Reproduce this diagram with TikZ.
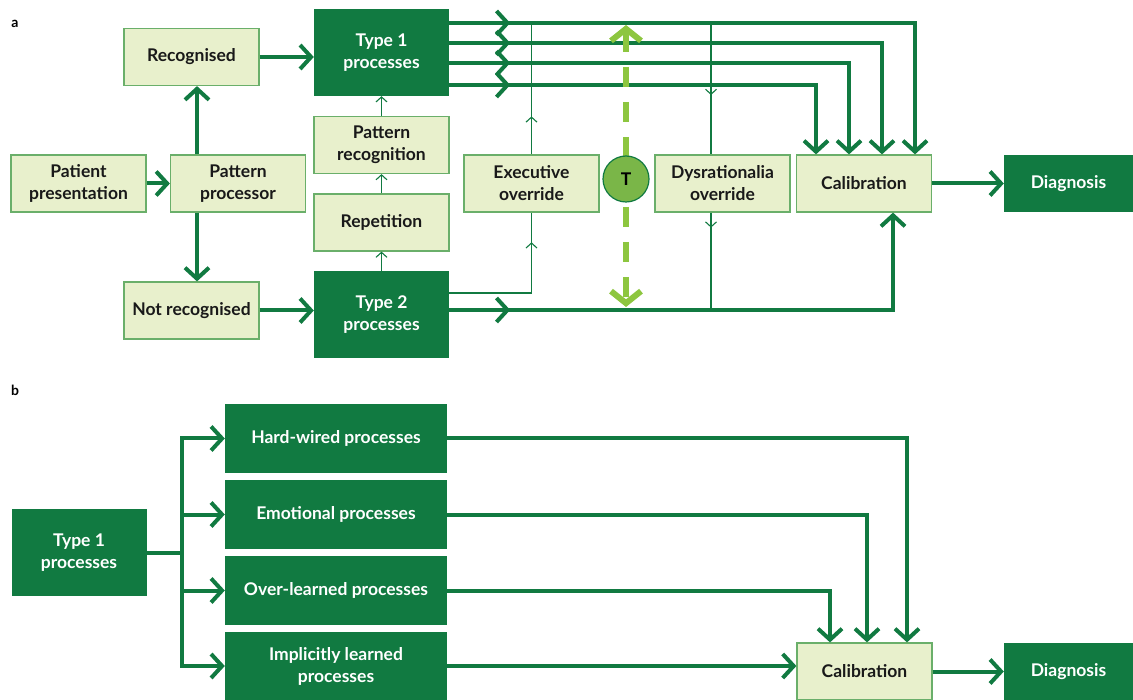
\documentclass[tikz,border=0pt]{standalone}
\usepackage{fontspec}
\setmainfont{Lato}
\usetikzlibrary{arrows.meta,decorations.markings}
\definecolor{dkgreen}{HTML}{117A41}
\definecolor{ltfill}{HTML}{E8F0CC}
\definecolor{ltline}{HTML}{6AAF6A}
\definecolor{dashgreen}{HTML}{8DC63F}
\definecolor{tfill}{HTML}{7AB648}
\def\boxfont{\bfseries\fontsize{17.5}{22}\selectfont}
\tikzset{
	lightbox/.style={draw=ltline, line width=1.2pt, fill=ltfill, text=black!90, minimum width=135pt, minimum height=57pt, align=center, inner sep=0pt, font=\boxfont},
	darkbox/.style={fill=dkgreen, text=white, minimum width=135pt, minimum height=87pt, align=center, inner sep=0pt, font=\boxfont},
	widebox/.style={darkbox, minimum width=222pt, minimum height=69pt},
	thkline/.style={draw=dkgreen, line width=4pt},
	thk/.style={thkline, -{Straight Barb[length=11pt,width=24pt]}},
	thin/.style={draw=dkgreen, line width=1.1pt, -{Straight Barb[length=5pt,width=11pt]}},
	midarr/.style={postaction={decorate, decoration={markings, mark=at position #1 with {\arrow{Straight Barb[length=11pt,width=24pt]}}}}},
	thinmid/.style={draw=dkgreen, line width=1.1pt, postaction={decorate, decoration={markings, mark=at position #1 with {\arrow{Straight Barb[length=5pt,width=11pt]}}}}},
	dashgrn/.style={draw=dashgreen, line width=6pt, dash pattern=on 20pt off 15pt, {Straight Barb[length=12pt,width=30pt]}-{Straight Barb[length=12pt,width=30pt]}},
	tcirc/.style={circle, draw=dkgreen, line width=1.2pt, fill=tfill, minimum size=46pt, inner sep=0pt, font=\boxfont},
	panel/.style={font=\bfseries\fontsize{14}{14}\selectfont, inner sep=0pt}
}

\begin{document}
\begin{tikzpicture}[x=1pt, y=-1pt]
			%%%%% START %%%%%
			\useasboundingbox (0,0) rectangle (1133,700);
			
			%%%%% panel a %%%%%
			\node[panel] (la) at (15,24) {a};
			
			\node[lightbox] (pp) at (78.5,183.5) {Patient\\presentation};
			\node[lightbox] (proc) at (238,183.5) {Pattern\\processor};
			\node[lightbox] (rec) at (191.5,57) {Recognised};
			\node[lightbox] (notrec) at (191.5,310.5) {Not recognised};
			\node[darkbox] (tone) at (381.5,52.5) {Type 1\\processes};
			\node[lightbox] (prec) at (381.5,145) {Pattern\\recognition};
			\node[lightbox] (rep) at (381.5,222.5) {Repetition};
			\node[darkbox] (ttwo) at (381.5,314.5) {Type 2\\processes};
			\node[lightbox] (exe) at (531.5,183.5) {Executive\\override};
			\node[lightbox] (dys) at (722.5,183.5) {Dysrationalia\\override};
			\node[lightbox] (cal) at (864,183.5) {Calibration};
			\node[darkbox, minimum width=129pt, minimum height=57pt] (diag) at (1068.5,183.5) {Diagnosis};
			
			% thin links
			\coordinate (dtop) at (711,23);
			\coordinate (dbot) at (711,310);
			\draw[thin] (ttwo) -- (rep);
			\draw[thin] (rep) -- (prec);
			\draw[thin] (prec) -- (tone);
			\draw[thinmid=133pt] (ttwo.east |- 0,293) -| (exe.south);
			\draw[thinmid=38pt] (exe.north) -- (exe.north |- dtop);
			\draw[thinmid=72pt] (dtop) -- (dys.north -| dtop);
			\draw[thinmid=15pt] (dys.south -| dtop) -- (dbot);
			
			% thick links
			\draw[thk] (pp) -- (proc);
			\draw[thk] (proc.north -| 197,0) -- (rec.south -| 197,0);
			\draw[thk] (proc.south -| 197,0) -- (notrec.north -| 197,0);
			\draw[thk] (rec.east) -- (rec.east -| tone.west);
			\draw[thk] (notrec.east) -- (notrec.east -| ttwo.west);
			\draw[thk, midarr=61pt] (tone.east |- 0,23) -| (cal.north -| 915,0);
			\draw[thk, midarr=61pt] (tone.east |- 0,43) -| (cal.north -| 882,0);
			\draw[thk, midarr=61pt] (tone.east |- 0,63) -| (cal.north -| 849,0);
			\draw[thk, midarr=61pt] (tone.east |- 0,85) -| (cal.north -| 816,0);
			\draw[thk, midarr=61pt] (ttwo.east |- dbot) -| (cal.south -| 893,0);
			\draw[thk] (cal) -- (diag);
			
			% time line
			\coordinate (tup) at (626,25);
			\coordinate (tdn) at (626,307);
			\draw[dashgrn] (tup) -- (tdn);
			\node[tcirc] (tnode) at (626,179) {T};
			
			%%%%% panel b %%%%%
			\node[panel] (lb) at (15,390) {b};
			
			\node[darkbox] (bone) at (79,552.5) {Type 1\\processes};
			\node[widebox] (hw) at (336,438.5) {Hard-wired processes};
			\node[widebox] (emo) at (336,514.5) {Emotional processes};
			\node[widebox] (ovl) at (336,590.5) {Over-learned processes};
			\node[widebox, minimum height=68pt] (imp) at (336,666) {Implicitly learned\\processes};
			\node[lightbox] (bcal) at (864.5,671.5) {Calibration};
			\node[darkbox, minimum width=129pt, minimum height=57pt] (bdiag) at (1068.5,671.5) {Diagnosis};
			
			\coordinate (jn) at (182,552.5);
			\draw[thkline] (bone.east) -- (jn);
			\draw[thk] (jn) |- (hw.west);
			\draw[thk] (jn) |- (emo.west);
			\draw[thk] (jn) |- (ovl.west);
			\draw[thk] (jn) |- (imp.west);
			
			\draw[thk] (hw.east) -| (bcal.north -| 907,0);
			\draw[thk] (emo.east) -| (bcal.north -| 867,0);
			\draw[thk] (ovl.east) -| (bcal.north -| 830,0);
			\draw[thk] (imp.east) -- (imp.east -| bcal.west);
			\draw[thk] (bcal) -- (bdiag);
			
			%%%%% END %%%%%
\end{tikzpicture}
\end{document}
